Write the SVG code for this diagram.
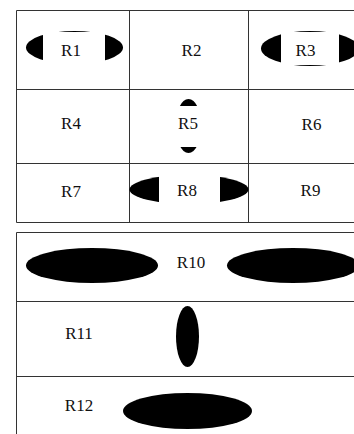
<svg xmlns="http://www.w3.org/2000/svg" width="354" height="434" viewBox="0 0 354 434">
<style>
.ln{stroke:#333;stroke-width:1;fill:none}
.sh{fill:#000}
.bg{fill:#fff}
text{font-family:'Liberation Serif','Times New Roman','DejaVu Serif',serif;font-size:17px;fill:#111;text-anchor:middle}
</style>
<rect width="354" height="434" fill="#fff"/>
<g id="connectors">
<path class="ln" d="M16.5 10.5H370M16.5 89.5H370M16.5 163.5H370M16.5 222.5H370M16.5 10.5V222.5M129.5 10.5V222.5M248.5 10.5V222.5"/>
<path class="ln" d="M16.5 232.5H370M16.5 301.5H370M16.5 376.5H370M16.5 232.5V440"/>
</g>
<g id="R1"><ellipse class="sh" cx="74.5" cy="47.5" rx="48.5" ry="16.5"/><rect class="bg" x="43" y="32" width="62" height="34"/><text x="71" y="56" font-family="Liberation Serif, serif">R1</text></g>
<g id="R2"><text x="191.5" y="56" font-family="Liberation Serif, serif">R2</text></g>
<g id="R3"><ellipse class="sh" cx="310" cy="48.5" rx="49" ry="17.5"/><rect class="bg" x="281" y="32" width="58" height="33"/><text x="305.5" y="56" font-family="Liberation Serif, serif">R3</text></g>
<g id="R4"><text x="71" y="129" font-family="Liberation Serif, serif">R4</text></g>
<g id="R5"><ellipse class="sh" cx="188.5" cy="126" rx="13" ry="27"/><rect class="bg" x="170" y="106" width="37" height="41"/><text x="188" y="129" font-family="Liberation Serif, serif">R5</text></g>
<g id="R6"><text x="311.5" y="130" font-family="Liberation Serif, serif">R6</text></g>
<g id="R7"><text x="71" y="197" font-family="Liberation Serif, serif">R7</text></g>
<g id="R8"><ellipse class="sh" cx="189" cy="189.5" rx="59.5" ry="14.5"/><rect class="bg" x="159" y="170" width="61" height="40"/><text x="187" y="196" font-family="Liberation Serif, serif">R8</text></g>
<g id="R9"><text x="310.5" y="196" font-family="Liberation Serif, serif">R9</text></g>
<g id="R10"><ellipse class="sh" cx="92" cy="265.5" rx="66" ry="17.5"/><ellipse class="sh" cx="293" cy="265.5" rx="66" ry="17.5"/><text x="191" y="268" font-family="Liberation Serif, serif">R10</text></g>
<g id="R11"><ellipse class="sh" cx="187.5" cy="336.5" rx="11.5" ry="30.5"/><text x="79" y="339" font-family="Liberation Serif, serif">R11</text></g>
<g id="R12"><ellipse class="sh" cx="187.5" cy="411" rx="64.5" ry="18"/><text x="79" y="411" font-family="Liberation Serif, serif">R12</text></g>
</svg>
